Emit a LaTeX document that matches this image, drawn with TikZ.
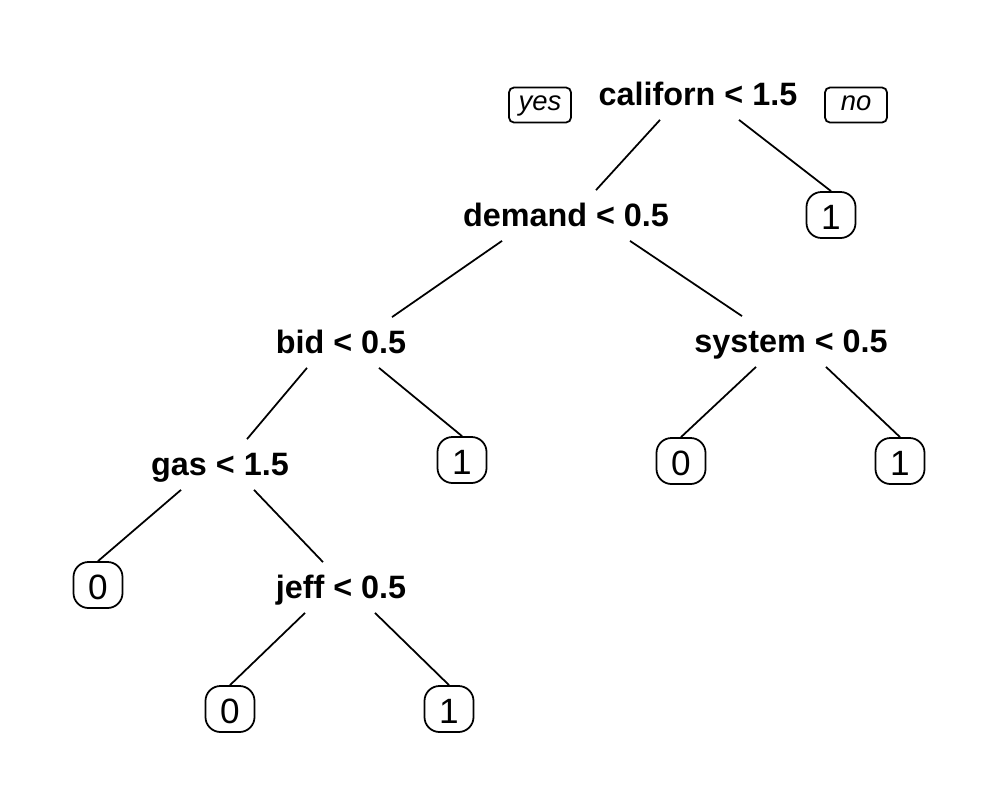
\documentclass[tikz,border=0pt]{standalone}
\usepackage{fontspec}
\setmainfont{Liberation Sans}
\begin{document}
\begin{tikzpicture}[x=0.01cm,y=-0.01cm,line width=0.5pt]

        \useasboundingbox (0,0) rectangle (1000,800);

        % splits, placed at their baselines
        \begin{scope}[every node/.style={anchor=base,inner xsep=0pt,inner ysep=0.1cm,
            text height=0.25cm,text depth=0.04cm,font=\fontsize{9.2}{11}\selectfont\bfseries}]
          \node (californ) at (698,105) {californ < 1.5};
          \node (demand)   at (566,226) {demand < 0.5};
          \node (bid)      at (341,353) {bid < 0.5};
          \node (system)   at (791,352) {system < 0.5};
          \node (gas)      at (220,475) {gas < 1.5};
          \node (jeff)     at (341,598) {jeff < 0.5};
        \end{scope}

        % leaves
        \begin{scope}[every node/.style={draw,rounded corners=0.15cm,minimum width=0.49cm,
            minimum height=0.46cm,inner sep=0pt,text height=0.29cm,text depth=0pt,
            font=\fontsize{10}{12}\selectfont}]
          \node (leafA) at (831,215) {1};
          \node (leafB) at (462,460) {1};
          \node (leafC) at (681,461) {0};
          \node (leafD) at (900,461) {1};
          \node (leafE) at (98,585)  {0};
          \node (leafF) at (230,709) {0};
          \node (leafG) at (449,709) {1};
        \end{scope}

        % yes / no
        \begin{scope}[every node/.style={draw,rounded corners=0.05cm,minimum width=0.62cm,
            minimum height=0.35cm,inner sep=0pt,text height=0.14cm,text depth=0.03cm,
            font=\fontsize{7.8}{9}\selectfont\itshape}]
          \node (yes) at (540,105) {yes};
          \node (no)  at (856,105) {no};
        \end{scope}

        \draw ([shift={(-38,0)}]californ.south) -- ([shift={(30,0)}]demand.north);
        \draw ([shift={(41,0)}]californ.south)  -- (leafA.north);
        \draw ([shift={(-64,0)}]demand.south)   -- ([shift={(51,0)}]bid.north);
        \draw ([shift={(64,0)}]demand.south)    -- ([shift={(-49,0)}]system.north);
        \draw ([shift={(-34,0)}]bid.south)      -- ([shift={(27,0)}]gas.north);
        \draw ([shift={(38,0)}]bid.south)       -- (leafB.north);
        \draw ([shift={(-35,0)}]system.south)   -- (leafC.north);
        \draw ([shift={(35,0)}]system.south)    -- (leafD.north);
        \draw ([shift={(-39,0)}]gas.south)      -- (leafE.north);
        \draw ([shift={(34,0)}]gas.south)       -- ([shift={(-18,0)}]jeff.north);
        \draw ([shift={(-36,0)}]jeff.south)     -- (leafF.north);
        \draw ([shift={(34,0)}]jeff.south)      -- (leafG.north);

      \end{tikzpicture}
\end{document}
